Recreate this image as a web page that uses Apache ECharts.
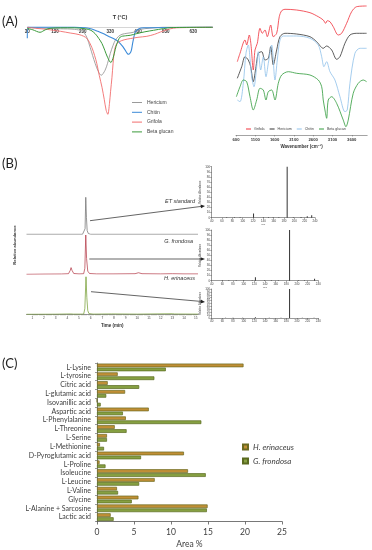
<!DOCTYPE html>
<html><head><meta charset="utf-8">
<script src="https://cdn.jsdelivr.net/npm/echarts@6/dist/echarts.min.js"></script>
<style>html,body{margin:0;padding:0;background:#fff}#c{width:372px;height:550px}</style>
</head><body><div id="c"></div>
<script>
// ---------- Panel A (left): DSC curves [T °C, heat flow (a.u.)] ----------
const dscHericium = [[30,0],[60,-0.5],[100,-1],[150,-1.5],[200,-2],[230,-4],[245,-10],[257,-20],[275,-36],[288,-45],[297,-48],[311,-43],[320,-36],[330,-26],[340,-18],[348,-13],[360,-9],[372,-7],[390,-6],[413,-5],[440,-2],[470,-1],[520,0],[700,0]];
const dscChitin = [[30,-11],[32,0],[100,0],[200,0],[240,-0.5],[263,-1.7],[285,-4],[304,-6.3],[323,-9],[341,-11.3],[355,-13.5],[366,-16.3],[376,-19.5],[384,-23],[391,-26],[396,-27],[401,-26],[406,-23],[410,-17],[414,-11.3],[420,-4.7],[432,-1.7],[450,-0.5],[700,0]];
const dscGrifola = [[30,0],[60,-1],[100,-2],[124,-3],[150,-4],[185,-5.7],[220,-7.5],[245,-11],[263,-20],[273,-28],[281,-36],[290,-48],[300,-60],[308,-72],[315,-83],[321,-87],[327,-76],[331,-64],[336,-50],[340,-36],[345,-23],[352,-17],[360,-14.7],[380,-12.5],[402,-11.3],[430,-10],[462,-9],[490,-7],[511,-4.7],[530,-3],[547,-1.5],[570,-0.5],[700,0]];
const dscBeta = [[30,-1],[50,-2.5],[76,-5],[95,-2.5],[112,-1],[150,-0.5],[200,-0.5],[240,-1.5],[260,-3],[275,-6.3],[288,-11],[300,-16.3],[310,-23],[320,-30],[332,-35.3],[341,-29.7],[348,-22],[354,-16.3],[366,-9.7],[385,-8.5],[402,-8],[426,-6.3],[455,-4.5],[486,-3],[522,-1.3],[550,-0.3],[700,0]];

// ---------- Panel A (right): FTIR [wavenumber cm-1, transmittance (a.u.)] ----------
const ftirGrifola = [[634,73.3],[704,81.7],[833,95],[877,90],[944,100],[989,90],[1048,65],[1092,85],[1152,91.7],[1222,106.7],[1281,101.7],[1351,105],[1411,98.3],[1499,110],[1566,98.3],[1654,101.7],[1721,118.3],[1784,124.3],[1869,125.7],[2172,125],[2517,122.3],[2732,118.3],[2861,115],[2923,111.7],[2965,114.3],[3035,113.3],[3120,108.3],[3250,100],[3338,101.7],[3467,111.7],[3597,123.3],[3726,128.3],[3985,129]];
const ftirHericium = [[634,56.7],[748,68.3],[833,78.3],[919,75],[981,68.3],[1048,53.3],[1118,68.3],[1178,81.7],[1266,83.3],[1351,75],[1437,76.7],[1499,88.3],[1566,70],[1654,85],[1740,98.3],[1869,101.7],[2172,101],[2517,98.3],[2690,93.3],[2861,86.7],[2949,89],[3079,85],[3208,75.7],[3294,78.3],[3423,91.7],[3553,100],[3726,101.7],[3985,101.7]];
const ftirChitin = [[634,35],[704,33.3],[789,51.7],[859,81.7],[919,90],[963,76.7],[1007,58.3],[1066,48.3],[1136,68.3],[1178,83.3],[1240,65],[1307,78.3],[1377,58.3],[1437,71.7],[1525,90],[1610,55],[1670,75],[1740,95],[1825,99],[2172,99],[2517,96.7],[2732,90],[2820,78.3],[2879,68.3],[2949,73.3],[3035,63.3],[3164,55],[3294,38.3],[3423,23.3],[3483,25],[3553,51.7],[3682,81.7],[3812,86.7],[3985,86.7]];
const ftirBeta = [[610,38.3],[704,48.3],[789,55],[877,53.3],[963,38.3],[1048,25],[1136,35],[1222,46.7],[1307,45],[1377,35],[1437,43.3],[1525,45],[1610,35],[1696,51.7],[1784,60],[1955,63.3],[2172,61.7],[2517,60],[2732,55],[2820,48.3],[2861,35],[2905,25],[2949,16.7],[2991,35],[3079,38.3],[3208,31.7],[3379,15],[3449,8.3],[3509,15],[3638,41.7],[3768,51.7],[3897,55],[3985,53.3]];

// ---------- Panel B: chromatograms [time min, relative abundance %] ----------
const chromET = [[0.5,0],[5.3,0],[5.45,2],[5.52,15],[5.58,100],[5.64,45],[5.7,10],[5.8,2],[6.0,0],[15.2,0]];
const chromGF = [[0.5,0],[2,0.5],[3.5,0.8],[4.1,1.5],[4.25,10],[4.32,17],[4.4,10],[4.55,2],[5.0,1],[5.4,1.5],[5.5,15],[5.58,100],[5.65,40],[5.75,8],[5.9,2],[6.5,1],[8,1],[9.8,1.5],[10.1,4],[10.4,1.5],[12,1],[13,1.5],[14,1],[15.2,1]];
const chromHE = [[0.5,0],[3,0.3],[4.3,1],[4.5,0.5],[5.4,0.5],[5.5,15],[5.6,100],[5.67,45],[5.75,10],[5.85,2],[6.2,0.5],[7.8,1],[10,0.5],[13,1.5],[13.2,0.8],[15.2,0.5]];
const peakLabels = ['5.58','5.58','5.60'];

// ---------- Panel B: MS/MS spectra [m/z, relative abundance %] ----------
const specET = [[69,1],[84,1],[95,1],[121,8],[140,1],[150,1],[159,1],[170,1],[186.1,100],[198,1],[213,1.5],[225,3],[233.6,5]];
const specGF = [[60,1],[72,1],[86,1],[100,1],[116,1],[122,7],[139,1],[152,1],[165,1],[186.1,100],[203,1],[214,1],[233,4]];
const specHE = [[66,1],[80,1],[98,1],[122,3],[148,1],[170,1],[186.1,100],[210,1],[232,1]];

// ---------- Panel C: amino/organic acids, Area % ----------
const compounds = ['L-Lysine','L-tyrosine','Citric acid','L-glutamic acid','Isovanillic acid','Aspartic acid','L-Phenylalanine','L-Threonine','L-Serine','L-Methionine','D-Pyroglutamic acid','L-Proline','Isoleucine','L-Leucine','L-Valine','Glycine','L-Alanine + Sarcosine','Lactic acid'];
const hErinaceus = [19.8,2.8,1.45,3.8,0,7.0,3.9,2.4,1.35,0.4,11.75,0.35,12.3,7.8,2.7,5.6,14.95,1.85];
const gFrondosa = [9.3,7.75,5.7,1.25,0.5,3.5,14.1,4.0,1.35,0.95,5.95,1.15,14.7,5.7,2.85,4.7,14.85,2.25];

const chart = echarts.init(document.getElementById('c'), null, {renderer:'canvas'});
const F = '"Liberation Sans", Arial, sans-serif';
const FC = 'Lato, "Open Sans", sans-serif';
const plain = (v) => String(v);
const tinyAxis = (extra) => Object.assign({
  axisLine:{show:true,lineStyle:{color:'#555',width:0.6}},
  axisTick:{show:true,length:1.5,lineStyle:{color:'#555',width:0.5}},
  axisLabel:{fontSize:3,color:'#444',margin:1.5,fontFamily:F,formatter:plain},
  splitLine:{show:false}
}, extra);

const timeTicks = [];
for (let t = 1; t <= 15; t += 0.2) timeTicks.push(Math.round(t*10)/10);
const timeLabels = [];
for (let t = 1; t <= 15; t++) timeLabels.push(t);

const lineS = (name, data, color, xi, yi, w) => ({
  name, type:'line', data, xAxisIndex:xi, yAxisIndex:yi, symbol:'none', smooth:0.3,
  lineStyle:{color, width:w||0.9}, itemStyle:{color}, silent:true, animation:false
});
const peak = (arr, lbl) => arr.map(d => d[1]===100 ? {value:d,label:{show:true,formatter:lbl,position:'top',fontSize:2.8,distance:1,color:'#333'}} : d);

const option = {
  animation:false,
  textStyle:{fontFamily:F},
  grid:[
    {left:27.3, top:26.3, width:185.4, height:101},        // 0 DSC
    {left:236, top:0, width:131.2, height:135},            // 1 FTIR
    {left:26.5, top:197.3, width:171.5, height:37},        // 2 chrom ET
    {left:26.5, top:235, width:171.5, height:39.3},        // 3 chrom GF
    {left:26.5, top:276.7, width:171.5, height:37.6},      // 4 chrom HE
    {left:211.7, top:166.7, width:103.3, height:51},       // 5 spec 1
    {left:211.7, top:230, width:106.6, height:50.7},       // 6 spec 2
    {left:211.7, top:289, width:106.6, height:29},         // 7 spec 3
    {left:97, top:363, right:90, bottom:27}                // 8 bars
  ],
  xAxis:[
    {gridIndex:0, type:'value', min:30, max:700, interval:100, position:'top',
      name:'T (°C)', nameLocation:'middle', nameGap:6, nameTextStyle:{fontSize:5.5,fontWeight:'bold',color:'#333'},
      axisLine:{lineStyle:{color:'#bbb',width:0.6}}, axisTick:{show:false},
      axisLabel:{inside:true, fontSize:4.5, fontWeight:'bold', color:'#333', margin:3, showMaxLabel:false, formatter:plain}, splitLine:{show:false}},
    {gridIndex:1, type:'value', min:600, max:4000, interval:500,
      name:'Wavenumber (cm\u207B\u00B9)', nameLocation:'middle', nameGap:9, nameTextStyle:{fontSize:4.5,fontWeight:'bold',color:'#333'},
      axisLine:{lineStyle:{color:'#666',width:0.6}}, axisTick:{length:1.5,lineStyle:{color:'#666',width:0.5}},
      axisLabel:{fontSize:4.2, fontWeight:'bold', color:'#333', margin:2.5, showMaxLabel:false, formatter:plain}, splitLine:{show:false}},
    {gridIndex:2, type:'value', min:0.5, max:15.2, show:false},
    {gridIndex:3, type:'value', min:0.5, max:15.2, show:false},
    tinyAxis({gridIndex:4, type:'value', min:0.5, max:15.2,
      name:'Time (min)', nameLocation:'middle', nameGap:9, nameTextStyle:{fontSize:4.5,fontWeight:'bold',color:'#333'},
      axisTick:{show:true,length:1.2,customValues:timeTicks,lineStyle:{color:'#555',width:0.4}},
      axisLabel:{fontSize:3.2,color:'#444',margin:2,customValues:timeLabels,formatter:plain}}),
    tinyAxis({gridIndex:5, type:'value', min:40, max:240, interval:20, name:'m/z', nameLocation:'middle', nameGap:5, nameTextStyle:{fontSize:2.5,color:'#444'}}),
    tinyAxis({gridIndex:6, type:'value', min:40, max:240, interval:20, name:'m/z', nameLocation:'middle', nameGap:5, nameTextStyle:{fontSize:2.5,color:'#444'}}),
    tinyAxis({gridIndex:7, type:'value', min:40, max:240, interval:20}),
    {gridIndex:8, type:'value', min:0, max:25, interval:5,
      name:'Area %', nameLocation:'middle', nameGap:18.5, nameTextStyle:{fontSize:8.5,color:'#404040',fontFamily:FC},
      axisLine:{show:true,lineStyle:{color:'#555',width:0.8}}, axisTick:{show:true,length:3,lineStyle:{color:'#555',width:0.8}},
      axisLabel:{fontSize:8.5,color:'#404040',margin:6,fontFamily:FC}, splitLine:{show:false}}
  ],
  yAxis:[
    {gridIndex:0, type:'value', min:-100, max:1, show:false},
    {gridIndex:1, type:'value', min:0, max:135, show:false},
    {gridIndex:2, type:'value', min:0, max:100, show:false},
    {gridIndex:3, type:'value', min:0, max:100, show:false},
    {gridIndex:4, type:'value', min:0, max:100, show:false},
    tinyAxis({gridIndex:5, type:'value', min:0, max:100, interval:10, name:'Relative Abundance', nameLocation:'middle', nameGap:7, nameTextStyle:{fontSize:2.6,color:'#444'}}),
    tinyAxis({gridIndex:6, type:'value', min:0, max:100, interval:10, name:'Relative Abundance', nameLocation:'middle', nameGap:7, nameTextStyle:{fontSize:2.6,color:'#444'}}),
    tinyAxis({gridIndex:7, type:'value', min:0, max:100, interval:10, name:'Relative Abundance', nameLocation:'middle', nameGap:7, nameTextStyle:{fontSize:2.6,color:'#444'}}),
    {gridIndex:8, type:'category', data:compounds, inverse:true,
      axisLine:{show:true,lineStyle:{color:'#555',width:0.8}}, axisTick:{show:true,length:2,lineStyle:{color:'#555',width:0.6}},
      axisLabel:{fontSize:7,color:'#404040',margin:6,fontFamily:FC,interval:0}}
  ],
  legend:[
    {data:['Hericium','Chitin','Grifola','Beta glucan'], orient:'vertical', left:127, top:95, itemGap:4.8,
      icon:'rect', itemWidth:10, itemHeight:1, textStyle:{fontSize:5,color:'#444'}, selectedMode:false},
    {data:['f_Grifola','f_Hericium','f_Chitin','f_Beta glucan'], orient:'horizontal', left:241, top:122, itemGap:5,
      icon:'rect', itemWidth:5, itemHeight:1, textStyle:{fontSize:3.6,color:'#444',padding:[0,0,0,-2]},
      formatter:(n)=>n.replace('f_',''), selectedMode:false},
    {data:['H. erinaceus','G. frondosa'], orient:'vertical', left:237, top:438, itemGap:6,
      icon:'rect', itemWidth:5, itemHeight:5, textStyle:{fontSize:8,fontStyle:'italic',color:'#404040',fontFamily:FC}, selectedMode:false}
  ],
  series:[
    lineS('Hericium', dscHericium, '#9a9a9a', 0, 0),
    lineS('Chitin', dscChitin, '#3b8ad8', 0, 0, 1.1),
    lineS('Grifola', dscGrifola, '#f26d6d', 0, 0),
    lineS('Beta glucan', dscBeta, '#3a9a3a', 0, 0, 1.0),
    lineS('f_Grifola', ftirGrifola, '#f0303a', 1, 1, 0.8),
    lineS('f_Hericium', ftirHericium, '#333333', 1, 1, 0.8),
    lineS('f_Chitin', ftirChitin, '#8ec0ea', 1, 1, 0.8),
    lineS('f_Beta glucan', ftirBeta, '#2f9a3a', 1, 1, 0.8),
    Object.assign(lineS('ET', peak(chromET, peakLabels[0]), '#6a6a6a', 2, 2, 0.7), {smooth:false}),
    Object.assign(lineS('GF', peak(chromGF, peakLabels[1]), '#b0303f', 3, 3, 0.7), {smooth:false}),
    Object.assign(lineS('HE', peak(chromHE, peakLabels[2]), '#6f9a2a', 4, 4, 0.7), {smooth:false}),
    {type:'bar', data:specET, xAxisIndex:5, yAxisIndex:5, barWidth:0.6, itemStyle:{color:'#333'}, silent:true},
    {type:'bar', data:specGF, xAxisIndex:6, yAxisIndex:6, barWidth:0.6, itemStyle:{color:'#333'}, silent:true},
    {type:'bar', data:specHE, xAxisIndex:7, yAxisIndex:7, barWidth:0.6, itemStyle:{color:'#333'}, silent:true},
    {name:'H. erinaceus', type:'bar', data:hErinaceus, xAxisIndex:8, yAxisIndex:8, barWidth:3.7, barGap:'8%',
      itemStyle:{color:'#c08f36', borderColor:'#6b6a1f', borderWidth:0.7}, silent:true},
    {name:'G. frondosa', type:'bar', data:gFrondosa, xAxisIndex:8, yAxisIndex:8, barWidth:3.7, barGap:'8%',
      itemStyle:{color:'#86a042', borderColor:'#5a6a1f', borderWidth:0.7}, silent:true}
  ],
  graphic:[
    {type:'text', left:2, top:15, style:{text:'(A)', fontSize:13, fill:'#222', fontFamily:FC}},
    {type:'text', left:2, top:157, style:{text:'(B)', fontSize:13, fill:'#222', fontFamily:FC}},
    {type:'text', left:2, top:357, style:{text:'(C)', fontSize:13, fill:'#222', fontFamily:FC}},
    {type:'text', x:15, y:245, rotation:Math.PI/2, style:{text:'Relative abundance', fontSize:4.2, fontWeight:'bold', fill:'#333', align:'center', verticalAlign:'middle'}},
    {type:'text', x:195, y:201.7, style:{text:'ET standard', fontSize:5.5, fontStyle:'italic', fill:'#333', align:'right', verticalAlign:'middle'}},
    {type:'text', x:193, y:241, style:{text:'G. frondosa', fontSize:5.5, fontStyle:'italic', fill:'#333', align:'right', verticalAlign:'middle'}},
    {type:'text', x:195, y:278.3, style:{text:'H. erinaceus', fontSize:5.5, fontStyle:'italic', fill:'#333', align:'right', verticalAlign:'middle'}},
    {type:'line', shape:{x1:90,y1:220.7,x2:202,y2:206.3}, style:{stroke:'#222',lineWidth:0.7}},
    {type:'polygon', shape:{points:[[205,206],[200.5,204.4],[201,208.2]]}, style:{fill:'#222'}},
    {type:'line', shape:{x1:89.3,y1:259,x2:202,y2:259}, style:{stroke:'#222',lineWidth:0.7}},
    {type:'polygon', shape:{points:[[205,259],[200.5,257.2],[200.5,260.8]]}, style:{fill:'#222'}},
    {type:'line', shape:{x1:91,y1:291.7,x2:202,y2:301.5}, style:{stroke:'#222',lineWidth:0.7}},
    {type:'polygon', shape:{points:[[205,302],[200.8,299.6],[200.4,303.4]]}, style:{fill:'#222'}}
  ]
};
chart.setOption(option);
</script></body></html>
